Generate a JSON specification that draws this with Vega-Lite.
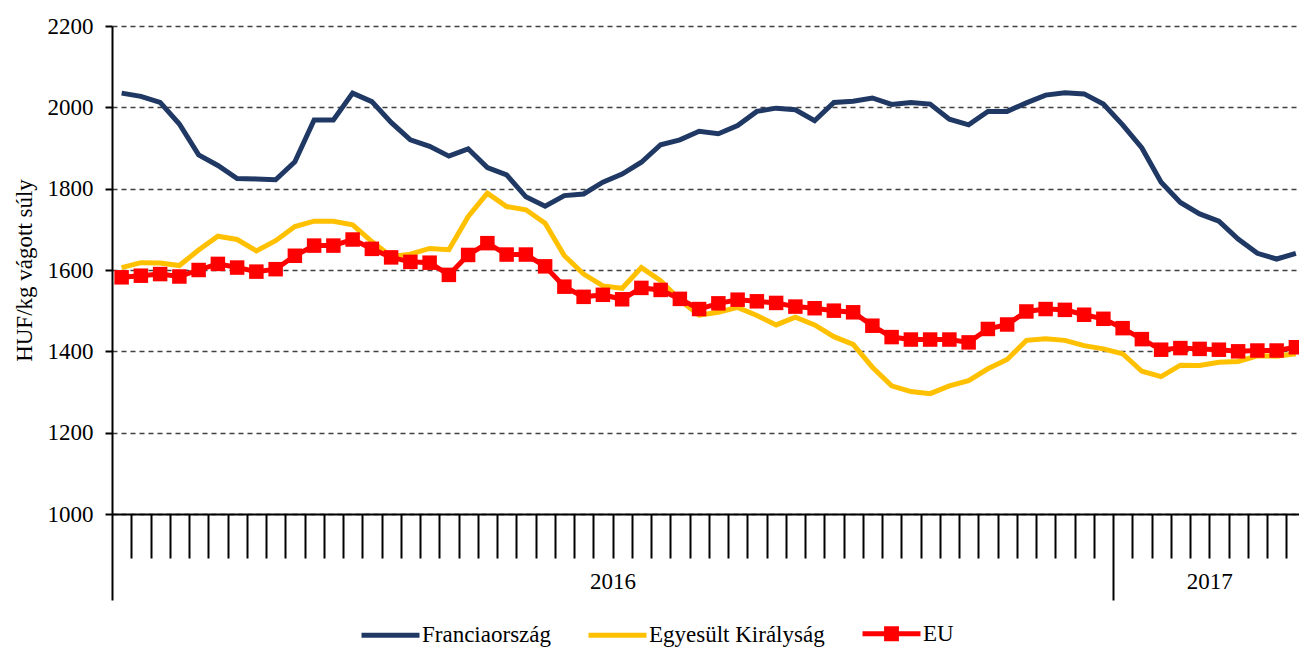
{
  "$schema": "https://vega.github.io/schema/vega-lite/v6.json",
  "width": 1187,
  "height": 488,
  "autosize": {"type": "none"},
  "padding": {"left": 112, "top": 26, "right": 0, "bottom": 134},
  "background": "white",
  "config": {"font": "Liberation Serif", "view": {"stroke": null}},
  "data": {"values": [
    {"k":1,"Franciaország":2035,"Egyesült Királyság":1606,"EU":1582},
    {"k":2,"Franciaország":2027,"Egyesült Királyság":1618,"EU":1586},
    {"k":3,"Franciaország":2012,"Egyesült Királyság":1617,"EU":1590},
    {"k":4,"Franciaország":1959,"Egyesült Királyság":1611,"EU":1584},
    {"k":5,"Franciaország":1883,"Egyesült Királyság":1649,"EU":1600},
    {"k":6,"Franciaország":1857,"Egyesült Királyság":1683,"EU":1615},
    {"k":7,"Franciaország":1825,"Egyesült Királyság":1675,"EU":1606},
    {"k":8,"Franciaország":1824,"Egyesült Királyság":1647,"EU":1596},
    {"k":9,"Franciaország":1822,"Egyesült Királyság":1672,"EU":1602},
    {"k":10,"Franciaország":1866,"Egyesült Királyság":1707,"EU":1635},
    {"k":11,"Franciaország":1969,"Egyesült Királyság":1720,"EU":1660},
    {"k":12,"Franciaország":1969,"Egyesült Királyság":1720,"EU":1660},
    {"k":13,"Franciaország":2035,"Egyesült Királyság":1711,"EU":1675},
    {"k":14,"Franciaország":2014,"Egyesült Királyság":1670,"EU":1652},
    {"k":15,"Franciaország":1963,"Egyesült Királyság":1633,"EU":1631},
    {"k":16,"Franciaország":1920,"Egyesült Királyság":1639,"EU":1620},
    {"k":17,"Franciaország":1904,"Egyesült Királyság":1653,"EU":1618},
    {"k":18,"Franciaország":1880,"Egyesült Királyság":1650,"EU":1588},
    {"k":19,"Franciaország":1898,"Egyesült Királyság":1731,"EU":1637},
    {"k":20,"Franciaország":1852,"Egyesült Királyság":1789,"EU":1666},
    {"k":21,"Franciaország":1834,"Egyesült Királyság":1756,"EU":1638},
    {"k":22,"Franciaország":1780,"Egyesült Királyság":1748,"EU":1638},
    {"k":23,"Franciaország":1757,"Egyesült Királyság":1715,"EU":1609},
    {"k":24,"Franciaország":1783,"Egyesült Királyság":1635,"EU":1559},
    {"k":25,"Franciaország":1787,"Egyesült Királyság":1590,"EU":1534},
    {"k":26,"Franciaország":1816,"Egyesült Királyság":1561,"EU":1539},
    {"k":27,"Franciaország":1836,"Egyesült Királyság":1555,"EU":1528},
    {"k":28,"Franciaország":1865,"Egyesült Királyság":1606,"EU":1556},
    {"k":29,"Franciaország":1908,"Egyesült Királyság":1574,"EU":1551},
    {"k":30,"Franciaország":1920,"Egyesült Királyság":1526,"EU":1529},
    {"k":31,"Franciaország":1941,"Egyesült Királyság":1489,"EU":1504},
    {"k":32,"Franciaország":1935,"Egyesült Királyság":1496,"EU":1518},
    {"k":33,"Franciaország":1955,"Egyesült Királyság":1508,"EU":1527},
    {"k":34,"Franciaország":1990,"Egyesült Királyság":1488,"EU":1523},
    {"k":35,"Franciaország":1998,"Egyesült Királyság":1465,"EU":1519},
    {"k":36,"Franciaország":1994,"Egyesült Királyság":1484,"EU":1510},
    {"k":37,"Franciaország":1967,"Egyesült Királyság":1465,"EU":1506},
    {"k":38,"Franciaország":2012,"Egyesült Királyság":1436,"EU":1500},
    {"k":39,"Franciaország":2015,"Egyesült Királyság":1417,"EU":1496},
    {"k":40,"Franciaország":2023,"Egyesült Királyság":1361,"EU":1463},
    {"k":41,"Franciaország":2007,"Egyesült Királyság":1315,"EU":1435},
    {"k":42,"Franciaország":2012,"Egyesült Királyság":1301,"EU":1429},
    {"k":43,"Franciaország":2008,"Egyesült Királyság":1296,"EU":1429},
    {"k":44,"Franciaország":1971,"Egyesült Királyság":1315,"EU":1429},
    {"k":45,"Franciaország":1957,"Egyesült Királyság":1328,"EU":1422},
    {"k":46,"Franciaország":1990,"Egyesült Királyság":1357,"EU":1455},
    {"k":47,"Franciaország":1990,"Egyesült Királyság":1380,"EU":1466},
    {"k":48,"Franciaország":2011,"Egyesült Királyság":1427,"EU":1498},
    {"k":49,"Franciaország":2030,"Egyesült Királyság":1431,"EU":1504},
    {"k":50,"Franciaország":2036,"Egyesült Királyság":1427,"EU":1502},
    {"k":51,"Franciaország":2033,"Egyesült Királyság":1414,"EU":1490},
    {"k":52,"Franciaország":2008,"Egyesült Királyság":1406,"EU":1480},
    {"k":53,"Franciaország":1957,"Egyesült Királyság":1394,"EU":1457},
    {"k":54,"Franciaország":1900,"Egyesült Királyság":1351,"EU":1430},
    {"k":55,"Franciaország":1816,"Egyesült Királyság":1338,"EU":1404},
    {"k":56,"Franciaország":1766,"Egyesült Királyság":1366,"EU":1408},
    {"k":57,"Franciaország":1738,"Egyesült Királyság":1365,"EU":1406},
    {"k":58,"Franciaország":1720,"Egyesült Királyság":1373,"EU":1404},
    {"k":59,"Franciaország":1676,"Egyesült Királyság":1375,"EU":1400},
    {"k":60,"Franciaország":1641,"Egyesült Királyság":1389,"EU":1402},
    {"k":61,"Franciaország":1627,"Egyesült Királyság":1388,"EU":1402},
    {"k":62,"Franciaország":1641,"Egyesült Királyság":1394,"EU":1410}
  ]},
  "transform": [{"fold": ["Franciaország", "Egyesült Királyság", "EU"], "as": ["s", "v"]}],
  "encoding": {
    "x": {
      "field": "k", "type": "ordinal",
      "scale": {"type": "band", "range": [0, 1193.5], "paddingInner": 0, "paddingOuter": 0},
      "axis": {
        "title": null, "grid": false,
        "domainColor": "black", "domainWidth": 2,
        "tickBand": "extent", "tickColor": "black", "tickWidth": 2,
        "tickSize": {"condition": {"test": "datum.index == -1 || datum.value == 52", "value": 86}, "value": 44},
        "labelExpr": "datum.value == 26 ? '2016' : datum.value == 57 ? '2017' : ''",
        "labelAngle": 0, "labelOffset": 9.6, "labelPadding": 12, "labelOverlap": false,
        "labelFontSize": 23, "labelColor": "black", "labelBaseline": "top"
      }
    },
    "y": {
      "field": "v", "type": "quantitative",
      "scale": {"domain": [1000, 2200], "nice": false, "zero": false},
      "axis": {
        "title": "HUF/kg vágott súly", "values": [1000, 1200, 1400, 1600, 1800, 2000, 2200], "format": "d",
        "grid": true, "gridDash": [5, 4], "gridColor": "#404040", "gridWidth": 1.3,
        "domainColor": "black", "domainWidth": 2,
        "tickColor": "black", "tickWidth": 2, "tickSize": 7,
        "labelPadding": 12, "labelFontSize": 23, "labelColor": "black",
        "titleFontSize": 23, "titleFontWeight": "normal", "titleColor": "black", "titlePadding": 11
      }
    }
  },
  "layer": [
    {
      "mark": {"type": "line", "strokeWidth": 5},
      "encoding": {
        "color": {
          "field": "s", "type": "nominal",
          "scale": {"domain": ["Franciaország", "Egyesült Királyság", "EU"], "range": ["#203864", "#FFC000", "#FF0000"]},
          "legend": {
            "orient": "none", "legendX": 247, "legendY": 576, "direction": "horizontal", "title": null,
            "symbolType": "stroke", "symbolSize": 3364, "symbolStrokeWidth": 5,
            "labelFontSize": 23, "labelColor": "black", "labelOffset": 0, "labelLimit": 500, "columnPadding": 27,
            "encode": {"symbols": {"update": {
              "shape": {"signal": "datum.value === 'EU' ? 'M-1,0H1M-0.17,-0.17H0.17V0.17H-0.17Z' : 'stroke'"},
              "fill": {"signal": "datum.value === 'EU' ? '#FF0000' : 'transparent'"},
              "fillOpacity": {"value": 1}
            }}}
          }
        }
      }
    },
    {
      "transform": [{"filter": "datum.s === 'EU'"}],
      "mark": {"type": "point", "shape": "square", "filled": true, "size": 210, "opacity": 1, "color": "#FF0000"}
    }
  ]
}
